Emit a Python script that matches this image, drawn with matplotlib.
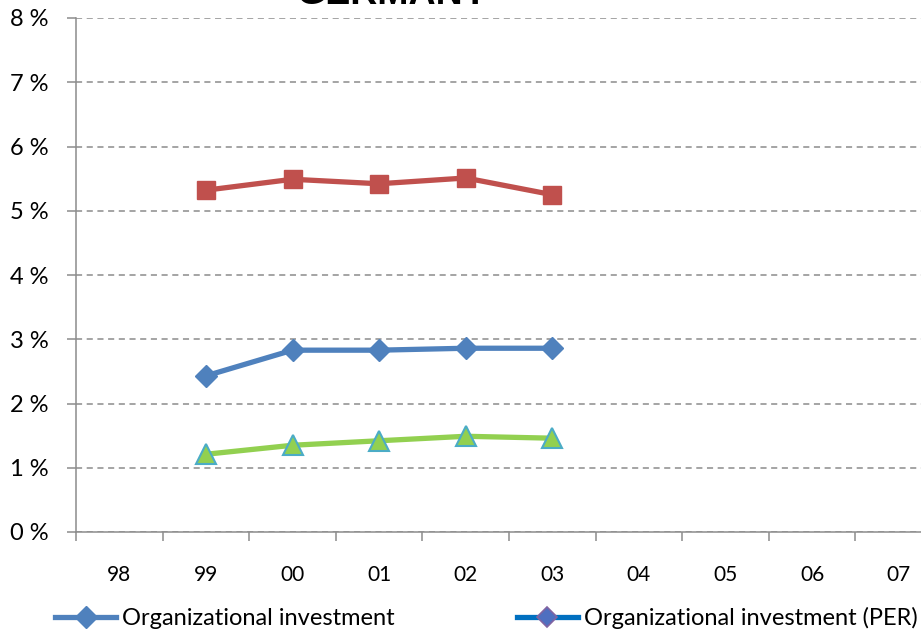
import matplotlib
matplotlib.use("Agg")
import matplotlib.pyplot as plt
from matplotlib.ticker import FixedLocator, FuncFormatter

years = ["98", "99", "00", "01", "02", "03", "04", "05", "06", "07"]
# values in percent, 1999-2003
org_inv = [2.43, 2.83, 2.83, 2.86, 2.86]
org_inv_per = []
red_series = [5.32, 5.49, 5.42, 5.51, 5.25]
green_series = [1.21, 1.35, 1.42, 1.49, 1.46]
data_years = [1, 2, 3, 4, 5]

plt.rcParams['font.family'] = ['Lato', 'DejaVu Sans']

fig = plt.figure(figsize=(9.21, 6.35), dpi=100)
ax = fig.add_axes([76/921, 103/635, 866/921, 514/635])

l1, = ax.plot(data_years, org_inv, color='#4F81BD', lw=3.8, marker='D',
              ms=11, mfc='#4F81BD', mec='#4F81BD', label='Organizational investment')
l2, = ax.plot(data_years[:len(org_inv_per)], org_inv_per, color='#0070C0', lw=3.8,
              marker='D', ms=10, mfc='#4F6FC0', mec='#8064A2', mew=1.2,
              label='Organizational investment (PER)')
ax.plot(data_years, red_series, color='#C0504D', lw=3.8, marker='s', ms=13,
        mfc='#C0504D', mec='#C0504D')
ax.plot(data_years, green_series, color='#92D050', lw=3.8, marker='^', ms=14,
        mfc='#92D050', mec='#4BACC6', mew=1.5)

ax.set_ylim(0, 8)
ax.set_xlim(-0.5, 9.5)
ax.yaxis.set_major_locator(FixedLocator(range(9)))
ax.yaxis.set_major_formatter(FuncFormatter(lambda v, p: f"{int(v)} %"))
ax.grid(axis='y', color='#8C8C8C', ls=(0, (4, 3)), lw=1.1)
ax.set_axisbelow(True)

ax.set_xticks(range(len(years)))
ax.set_xticklabels(years)
ax.set_xticks([i - 0.5 for i in range(len(years) + 1)], minor=True)
ax.tick_params(axis='x', which='major', length=0, pad=24, labelsize=15)
ax.tick_params(axis='x', which='minor', length=6.5, width=1.1, color='#8C8C8C', direction='out')
ax.tick_params(axis='y', length=6.5, width=1.1, color='#8C8C8C', pad=13, labelsize=17)

for s in ['top', 'right']:
    ax.spines[s].set_visible(False)
for s in ['left', 'bottom']:
    ax.spines[s].set_color('#8C8C8C')
    ax.spines[s].set_linewidth(1.1)

fig.text(392/921, 1 - 4/635, 'GERMANY', ha='center', va='baseline',
         fontsize=27, fontweight='bold', family='Liberation Sans')

fig.legend(handles=[l1, l2], loc='center left', bbox_to_anchor=(55/921, 1 - 618/635),
           ncol=2, frameon=False, fontsize=17, handlelength=2.6, handletextpad=0.25,
           columnspacing=5.15, borderaxespad=0, borderpad=0)

fig.savefig('out.png', dpi=100)
